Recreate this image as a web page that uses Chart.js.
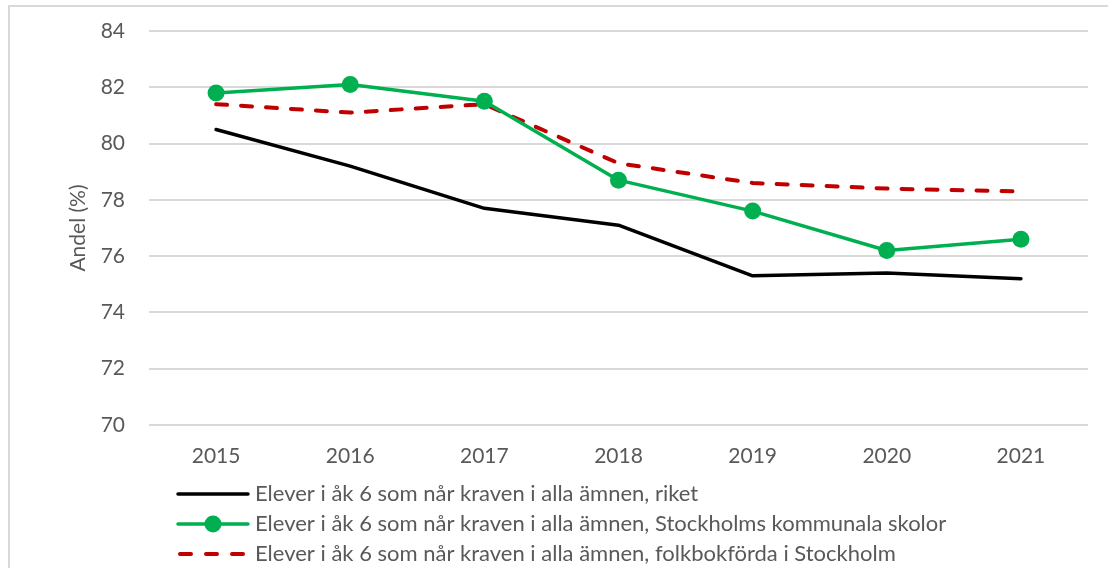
<!DOCTYPE html>
<html>
<head>
<meta charset="utf-8">
<script src="https://cdn.jsdelivr.net/npm/chart.js@4.4.1/dist/chart.umd.min.js"></script>
<style>
  html, body { margin: 0; padding: 0; background: #ffffff; }
  #wrap { width: 1108px; height: 568px; position: relative; }
</style>
</head>
<body>
<div id="wrap"><canvas id="c" width="1108" height="568"></canvas></div>
<script>
const years = ['2015', '2016', '2017', '2018', '2019', '2020', '2021'];
const riket = [80.5, 79.2, 77.7, 77.1, 75.3, 75.4, 75.2];
const kommunala = [81.8, 82.1, 81.5, 78.7, 77.6, 76.2, 76.6];
const folkbokforda = [81.4, 81.1, 81.4, 79.3, 78.6, 78.4, 78.3];
const seriesNames = [
  'Elever i åk 6 som når kraven i alla ämnen, riket',
  'Elever i åk 6 som når kraven i alla ämnen, Stockholms kommunala skolor',
  'Elever i åk 6 som når kraven i alla ämnen, folkbokförda i Stockholm'
];
const yTicks = [70, 72, 74, 76, 78, 80, 82, 84];

const FONT = 'Lato, "Open Sans", sans-serif';
const TEXT = '#595959';

const frame = {
  id: 'frame',
  beforeDraw(chart) {
    const ctx = chart.ctx;
    ctx.save();
    ctx.fillStyle = '#ffffff';
    ctx.fillRect(0, 0, chart.width, chart.height);
    ctx.strokeStyle = '#d9d9d9';
    ctx.lineWidth = 2;
    ctx.strokeRect(9, 6, chart.width + 20, chart.height + 20);
    ctx.restore();
  }
};

const customLegend = {
  id: 'customLegend',
  afterDraw(chart) {
    const ctx = chart.ctx;
    const a = chart.chartArea;
    const x0 = a.left + 29, x1 = x0 + 70;
    const rowY = [a.bottom + 69, a.bottom + 99, a.bottom + 129];
    ctx.save();
    chart.data.datasets.forEach((ds, i) => {
      const y = rowY[i];
      ctx.strokeStyle = ds.borderColor;
      ctx.lineWidth = ds.borderWidth;
      ctx.lineCap = ds.borderCapStyle || 'butt';
      ctx.beginPath();
      if (ds.borderDash && ds.borderDash.length) {
        const seg = 15, gap = 11;
        let x = x0 + 2;
        while (x < x1) {
          ctx.moveTo(x, y);
          ctx.lineTo(Math.min(x + seg - 4, x1 - 2), y);
          x += seg + gap;
        }
      } else {
        ctx.moveTo(x0, y);
        ctx.lineTo(x1, y);
      }
      ctx.stroke();
      if (ds.pointRadius > 0) {
        ctx.fillStyle = ds.pointBackgroundColor;
        ctx.beginPath();
        ctx.arc((x0 + x1) / 2, y, ds.pointRadius, 0, Math.PI * 2);
        ctx.fill();
      }
      ctx.fillStyle = TEXT;
      ctx.font = '22px ' + FONT;
      ctx.textBaseline = 'middle';
      ctx.textAlign = 'left';
      ctx.fillText(ds.label, x1 + 7, y);
    });
    ctx.restore();
  }
};

new Chart(document.getElementById('c'), {
  type: 'line',
  data: {
    labels: years,
    datasets: [
      {
        label: seriesNames[0], data: riket,
        borderColor: '#000000', backgroundColor: '#000000',
        borderWidth: 3.5, pointRadius: 0, pointHoverRadius: 0,
        borderCapStyle: 'round', borderJoinStyle: 'round', tension: 0
      },
      {
        label: seriesNames[1], data: kommunala,
        borderColor: '#00B050', backgroundColor: '#00B050',
        pointBackgroundColor: '#00B050', pointBorderColor: '#00B050',
        borderWidth: 3.5, pointRadius: 8.5, pointBorderWidth: 0,
        borderCapStyle: 'round', borderJoinStyle: 'round', tension: 0
      },
      {
        label: seriesNames[2], data: folkbokforda,
        borderColor: '#C00000', backgroundColor: '#C00000',
        borderWidth: 4, pointRadius: 0, pointHoverRadius: 0,
        borderDash: [11, 14], borderCapStyle: 'round', tension: 0
      }
    ]
  },
  options: {
    responsive: false,
    animation: false,
    layout: { padding: { top: 31, right: 20, bottom: 93, left: 60 } },
    plugins: {
      legend: { display: false },
      tooltip: { enabled: false }
    },
    scales: {
      x: {
        offset: true,
        grid: { display: false, drawTicks: false },
        border: { display: false },
        ticks: { color: TEXT, font: { family: FONT, size: 21 }, padding: 19, maxRotation: 0 },
        afterFit(s) { s.height = 50; s.paddingLeft = 0; s.paddingRight = 0; }
      },
      y: {
        min: 70, max: 84,
        afterBuildTicks(s) { s.ticks = yTicks.map(v => ({ value: v })); },
        grid: { color: '#d9d9d9', lineWidth: 2, drawTicks: false },
        border: { display: false },
        ticks: { color: TEXT, font: { family: FONT, size: 21 }, padding: 24 },
        title: {
          display: true, text: 'Andel (%)', color: TEXT,
          font: { family: FONT, size: 21 }, padding: { top: 6, bottom: 0 }
        },
        afterFit(s) { s.width = 89; s.paddingTop = 0; s.paddingBottom = 0; }
      }
    }
  },
  plugins: [frame, customLegend]
});
</script>
</body>
</html>
